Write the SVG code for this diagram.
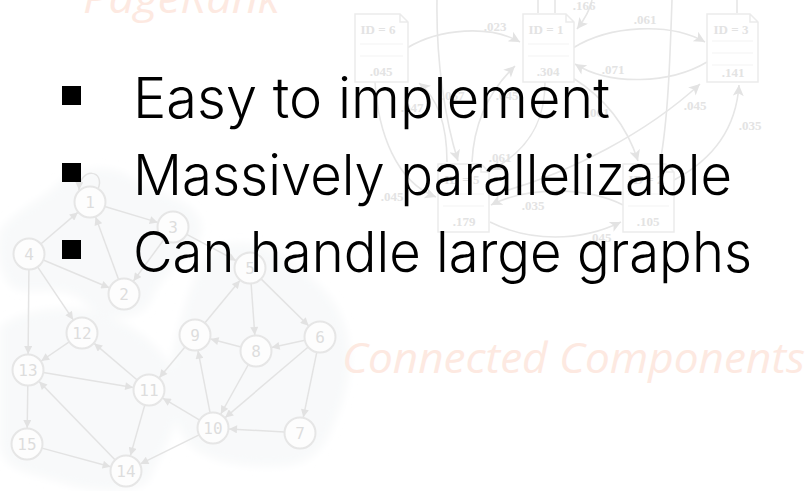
<svg xmlns="http://www.w3.org/2000/svg" width="809" height="491" viewBox="0 0 809 491">
  <defs>
    <filter id="soft" x="-20%" y="-20%" width="140%" height="140%">
      <feGaussianBlur stdDeviation="4"/>
    </filter>
    <marker id="arr" viewBox="0 0 10 10" refX="10" refY="5" markerWidth="9" markerHeight="8" markerUnits="userSpaceOnUse" orient="auto">
      <path d="M0,0 L10,5 L0,10 z" fill="#e2e2e2"/>
    </marker>
    <marker id="arrBig" viewBox="0 0 10 10" refX="10" refY="5" markerWidth="13" markerHeight="11" markerUnits="userSpaceOnUse" orient="auto">
      <path d="M0,0 L10,5 L0,10 L2.5,5 z" fill="#e3e3e3"/>
    </marker>
  </defs>
  <style>
    .faded { font-family: "Open Sans", "Noto Sans", sans-serif; font-style: italic; font-size: 42px; fill: #fde9e1; }
    .blob { fill: #f8f9fa; }
    .cc-edge { stroke: #e3e3e3; stroke-width: 1.5; fill: none; marker-end: url(#arr); }
    .cc-node circle { fill: #fdfdfd; stroke: #e6e6e6; stroke-width: 2; }
    .cc-node text { font-family: "DejaVu Sans Mono", "Liberation Mono", monospace; font-size: 16px; fill: #dddddd; text-anchor: middle; }
    .pr-edge { stroke: #e6e6e6; stroke-width: 1.6; fill: none; }
    .pr-edge.arrow { marker-end: url(#arrBig); }
    .doc path { fill: #ffffff; stroke: #ebebeb; stroke-width: 1.5; }
    .doc line { stroke: #f3f3f3; stroke-width: 1; }
    .doc text, .pr-label { font-family: "Liberation Serif", "DejaVu Serif", serif; font-weight: bold; font-size: 13px; fill: #e3e3e3; text-anchor: middle; }
    .bullet { fill: #000000; }
    .item { font-family: Inter, "Open Sans", sans-serif; font-weight: 300; font-size: 56px; fill: #000000; }
  </style>

  <rect width="809" height="491" fill="#ffffff"/>

  <!-- component backdrops -->
  <g id="backdrops" filter="url(#soft)">
    <path class="blob" d="M0,232 C12,212 42,200 58,184 C74,166 112,164 132,178 C152,194 196,198 201,224 C206,250 162,270 152,298 C142,324 100,322 84,302 C70,286 40,292 20,290 C4,288 -6,258 0,232 Z"/>
    <path class="blob" d="M0,328 C20,308 72,304 102,314 C132,324 170,350 178,385 C186,420 160,452 150,478 C140,496 90,492 60,482 C30,472 0,472 0,440 Z"/>
    <path class="blob" d="M228,244 C262,238 292,258 322,288 C352,320 356,362 342,402 C328,442 318,464 280,466 C240,468 200,460 186,440 C170,418 166,380 176,340 C186,300 198,250 228,244 Z"/>
  </g>

  <!-- section titles -->
  <text class="faded" x="83" y="13" textLength="197" lengthAdjust="spacingAndGlyphs">PageRank</text>
  <text class="faded" x="342" y="373" textLength="463" lengthAdjust="spacingAndGlyphs">Connected Components</text>

  <!-- PageRank link graph: connectors -->
  <g id="pr-connectors">
    <path class="pr-edge arrow" d="M407,48 C440,28 490,25 520,42"/>
    <path class="pr-edge arrow" d="M573,48 C610,25 670,22 705,42"/>
    <path class="pr-edge arrow" d="M707,62 C670,84 610,86 575,64"/>
    <path class="pr-edge arrow" d="M592,0 C590,10 584,20 577,29"/>
    <path class="pr-edge" d="M538,0 L538,13"/>
    <path class="pr-edge" d="M555,0 L555,13"/>
    <path class="pr-edge" d="M737,0 L737,13"/>
    <path class="pr-edge arrow" d="M437,0 C436,60 445,120 458,161"/>
    <path class="pr-edge arrow" d="M375,82 C378,132 396,182 436,197"/>
    <path class="pr-edge arrow" d="M447,162 C447,130 440,100 419,83"/>
    <path class="pr-edge arrow" d="M472,162 C474,120 490,90 515,66"/>
    <path class="pr-edge arrow" d="M545,82 C545,120 530,150 491,170"/>
    <path class="pr-edge arrow" d="M573,78 C600,95 625,120 638,161"/>
    <path class="pr-edge" d="M672,0 C670,60 668,120 660,163"/>
    <path class="pr-edge arrow" d="M490,195 C570,175 650,130 700,84"/>
    <path class="pr-edge arrow" d="M674,180 C712,160 736,130 739,85"/>
    <path class="pr-edge arrow" d="M623,205 C590,188 530,185 491,205"/>
    <path class="pr-edge arrow" d="M490,222 C530,242 580,242 621,222"/>
  </g>

  <!-- PageRank link graph: documents -->
  <g id="doc-6" class="doc">
    <path d="M355,14 h45 l8,8 v60 h-53 z M400,14 v8 h8"/>
    <line x1="360" y1="44" x2="403" y2="44"/><line x1="360" y1="56" x2="403" y2="56"/>
    <text x="378" y="34">ID = 6</text>
    <text x="381" y="76">.045</text>
  </g>
  <g id="doc-1" class="doc">
    <path d="M523,14 h43 l8,8 v60 h-51 z M566,14 v8 h8"/>
    <line x1="528" y1="44" x2="569" y2="44"/><line x1="528" y1="56" x2="569" y2="56"/>
    <text x="546" y="34">ID = 1</text>
    <text x="548" y="76">.304</text>
  </g>
  <g id="doc-3" class="doc">
    <path d="M707,14 h43 l8,8 v60 h-51 z M750,14 v8 h8"/>
    <line x1="712" y1="41" x2="753" y2="41"/><line x1="712" y1="53" x2="753" y2="53"/><line x1="712" y1="65" x2="753" y2="65"/>
    <text x="731" y="34">ID = 3</text>
    <text x="733" y="77">.141</text>
  </g>
  <g id="doc-5" class="doc">
    <path d="M438,164 h43 l8,8 v60 h-51 z M481,164 v8 h8"/>
    <line x1="443" y1="194" x2="484" y2="194"/><line x1="443" y1="206" x2="484" y2="206"/>
    <text x="462" y="184">ID = 5</text>
    <text x="464" y="226">.179</text>
  </g>
  <g id="doc-2" class="doc">
    <path d="M623,164 h43 l8,8 v60 h-51 z M666,164 v8 h8"/>
    <line x1="628" y1="194" x2="669" y2="194"/><line x1="628" y1="206" x2="669" y2="206"/>
    <text x="646" y="184">ID = 2</text>
    <text x="648" y="226">.105</text>
  </g>

  <!-- PageRank link weights -->
  <g id="pr-weights">
    <text class="pr-label" x="584" y="10">.166</text>
    <text class="pr-label" x="495" y="31">.023</text>
    <text class="pr-label" x="645" y="24">.061</text>
    <text class="pr-label" x="613" y="74">.071</text>
    <text class="pr-label" x="695" y="110">.045</text>
    <text class="pr-label" x="750" y="130">.035</text>
    <text class="pr-label" x="598" y="117">.061</text>
    <text class="pr-label" x="412" y="112">.047</text>
    <text class="pr-label" x="453" y="100">.067</text>
    <text class="pr-label" x="507" y="100">.045</text>
    <text class="pr-label" x="500" y="162">.061</text>
    <text class="pr-label" x="533" y="210">.035</text>
    <text class="pr-label" x="392" y="201">.045</text>
    <text class="pr-label" x="600" y="242">.045</text>
  </g>

  <!-- component graph: connectors -->
  <g id="cc-connectors">
    <path class="cc-edge" d="M98,189 C106,170 80,166 79,190"/>
    <line class="cc-edge" x1="104.8" y1="206.5" x2="157.7" y2="222.4"/>
    <line class="cc-edge" x1="40.8" y1="244.0" x2="77.8" y2="212.4"/>
    <line class="cc-edge" x1="118.6" y1="279.5" x2="95.6" y2="217.0"/>
    <line class="cc-edge" x1="163.9" y1="239.5" x2="133.4" y2="281.1"/>
    <line class="cc-edge" x1="43.3" y1="260.0" x2="109.3" y2="287.8"/>
    <line class="cc-edge" x1="186.7" y1="234.3" x2="235.9" y2="260.5"/>
    <line class="cc-edge" x1="37.6" y1="266.9" x2="73.1" y2="319.7"/>
    <line class="cc-edge" x1="28.9" y1="269.5" x2="28.1" y2="354"/>
    <line class="cc-edge" x1="69.2" y1="341.8" x2="41.2" y2="361.0"/>
    <line class="cc-edge" x1="137.2" y1="380.0" x2="94.2" y2="343.4"/>
    <line class="cc-edge" x1="43.3" y1="372.5" x2="133.2" y2="387.4"/>
    <line class="cc-edge" x1="27.8" y1="385.5" x2="27.2" y2="428"/>
    <line class="cc-edge" x1="115.2" y1="459.9" x2="39.1" y2="381.5"/>
    <line class="cc-edge" x1="42.0" y1="448.1" x2="110.6" y2="466.8"/>
    <line class="cc-edge" x1="144.8" y1="404.9" x2="130.4" y2="455.6"/>
    <line class="cc-edge" x1="185.0" y1="346.9" x2="159.3" y2="377.7"/>
    <line class="cc-edge" x1="204.8" y1="323.0" x2="239.9" y2="280.4"/>
    <line class="cc-edge" x1="251.1" y1="283.5" x2="254.8" y2="335.0"/>
    <line class="cc-edge" x1="261.0" y1="278.9" x2="308.6" y2="325.8"/>
    <line class="cc-edge" x1="241.0" y1="347.1" x2="210.5" y2="339.1"/>
    <line class="cc-edge" x1="304.9" y1="340.3" x2="271.6" y2="347.6"/>
    <line class="cc-edge" x1="248.4" y1="364.5" x2="220.8" y2="414.0"/>
    <line class="cc-edge" x1="308.2" y1="347.0" x2="225.2" y2="417.6"/>
    <line class="cc-edge" x1="316.8" y1="352.2" x2="303.3" y2="417.3"/>
    <line class="cc-edge" x1="284.5" y1="432.1" x2="229.0" y2="428.9"/>
    <line class="cc-edge" x1="210.1" y1="412.8" x2="198.0" y2="350.7"/>
    <line class="cc-edge" x1="199.7" y1="420.1" x2="162.8" y2="398.2"/>
    <line class="cc-edge" x1="199.1" y1="434.9" x2="140.4" y2="463.9"/>
  </g>

  <!-- component graph: vertices -->
  <g id="n1" class="cc-node"><circle cx="90" cy="202" r="15.5"/><text x="90" y="208">1</text></g>
  <g id="n2" class="cc-node"><circle cx="124" cy="294" r="15.5"/><text x="124" y="300">2</text></g>
  <g id="n3" class="cc-node"><circle cx="173" cy="227" r="15.5"/><text x="173" y="233">3</text></g>
  <g id="n4" class="cc-node"><circle cx="29" cy="254" r="15.5"/><text x="29" y="260">4</text></g>
  <g id="n5" class="cc-node"><circle cx="250" cy="268" r="15.5"/><text x="250" y="274">5</text></g>
  <g id="n6" class="cc-node"><circle cx="320" cy="337" r="15.5"/><text x="320" y="343">6</text></g>
  <g id="n7" class="cc-node"><circle cx="300" cy="433" r="15.5"/><text x="300" y="439">7</text></g>
  <g id="n8" class="cc-node"><circle cx="256" cy="351" r="15.5"/><text x="256" y="357">8</text></g>
  <g id="n9" class="cc-node"><circle cx="195" cy="335" r="15.5"/><text x="195" y="341">9</text></g>
  <g id="n10" class="cc-node"><circle cx="213" cy="428" r="15.5"/><text x="213" y="434">10</text></g>
  <g id="n11" class="cc-node"><circle cx="149" cy="390" r="15.5"/><text x="149" y="396">11</text></g>
  <g id="n12" class="cc-node"><circle cx="82" cy="333" r="15.5"/><text x="82" y="339">12</text></g>
  <g id="n13" class="cc-node"><circle cx="28" cy="370" r="15.5"/><text x="28" y="376">13</text></g>
  <g id="n14" class="cc-node"><circle cx="126" cy="471" r="15.5"/><text x="126" y="477">14</text></g>
  <g id="n15" class="cc-node"><circle cx="27" cy="444" r="15.5"/><text x="27" y="450">15</text></g>

  <!-- bullet list -->
  <g id="bullets">
    <rect class="bullet" x="62" y="86" width="19" height="19"/>
    <rect class="bullet" x="62" y="163" width="19" height="19"/>
    <rect class="bullet" x="62" y="240" width="19" height="19"/>
    <text class="item" x="133" y="118" textLength="477" lengthAdjust="spacingAndGlyphs">Easy to implement</text>
    <text class="item" x="133" y="195" textLength="599" lengthAdjust="spacingAndGlyphs">Massively parallelizable</text>
    <text class="item" x="133" y="272" textLength="619" lengthAdjust="spacingAndGlyphs">Can handle large graphs</text>
  </g>
</svg>
